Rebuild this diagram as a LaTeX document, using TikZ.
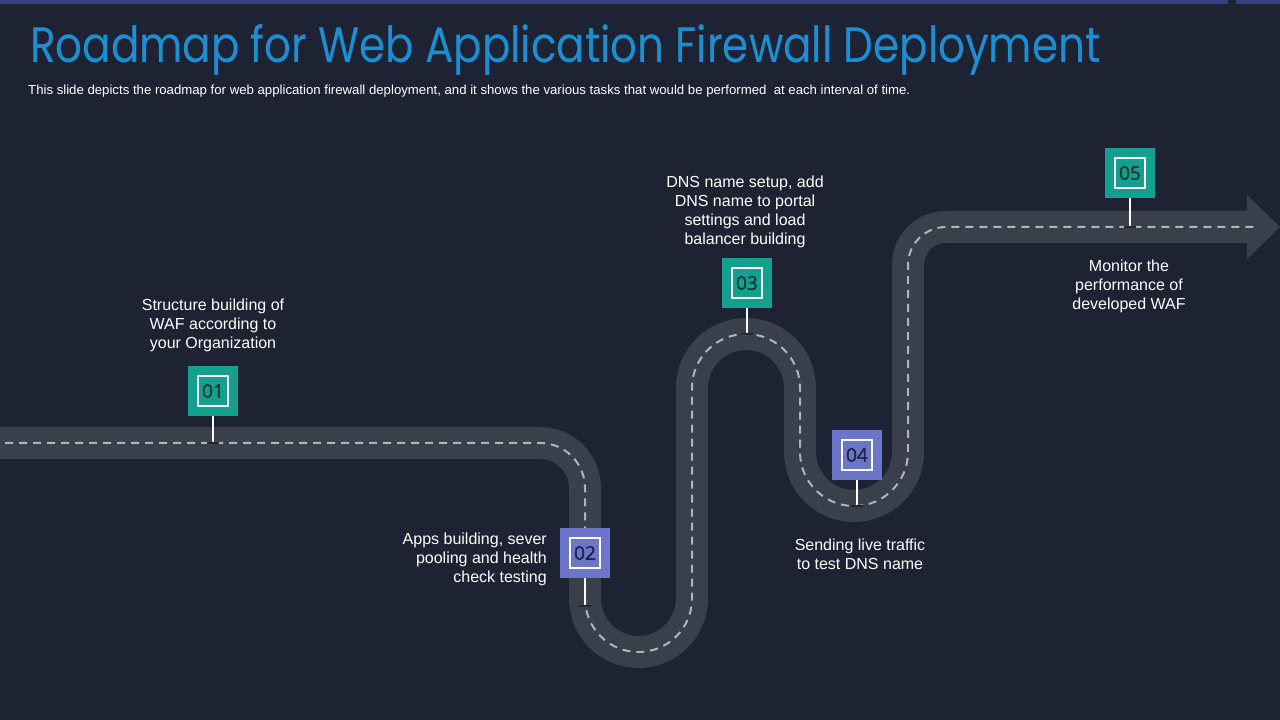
\documentclass[tikz,border=0pt]{standalone}
\usepackage{fontspec}
\setmainfont{Liberation Sans}
\newfontfamily\titlefont{Poppins}
\newfontfamily\numfont[FakeBold=1.8]{Open Sans}
\usepackage{graphicx}
\definecolor{bg}{HTML}{1E2333}
\definecolor{topbar}{HTML}{34417F}
\definecolor{roadc}{HTML}{3A3F4C}
\definecolor{dashc}{HTML}{B0B3BA}
\definecolor{mteal}{HTML}{13A08E}
\definecolor{mperi}{HTML}{6C76C8}
\definecolor{titlec}{HTML}{1B8FD3}
\definecolor{numteal}{HTML}{0E3B3A}
\definecolor{numperi}{HTML}{1E2446}
\definecolor{tickc}{HTML}{23272F}
\begin{document}
\begin{tikzpicture}[x=1pt,y=1pt,
  road/.style={draw=roadc, line width=32pt},
  centerline/.style={draw=dashc, line width=2pt, dash pattern=on 8pt off 6pt},
  markerbox/.style={minimum size=50pt, inner sep=0pt, draw=none},
  innerbox/.style={minimum size=30pt, inner sep=0pt, draw=white, line width=1.2pt, font=\numfont\fontsize{19}{20}\selectfont},
  stem/.style={draw=white, line width=1.2pt},
  tick/.style={draw=tickc, line width=1.5pt},
  lbl/.style={text=white, font=\fontsize{16}{19}\selectfont, align=center, inner sep=0pt}
]
\useasboundingbox (0,0) rectangle (1280,720);
\fill[bg] (0,0) rectangle (1280,720);
\fill[topbar] (0,716) rectangle (1228,720);
\fill[topbar] (1236,716) rectangle (1280,720);

% title and subtitle
\node[anchor=base west, inner sep=0pt, text=titlec] (title) at (30,657)
  {\resizebox{1070pt}{38pt}{\titlefont Roadmap for Web Application Firewall Deployment}};
\node[anchor=base west, inner sep=0pt, text=white] (sub) at (28,625)
  {\resizebox{882pt}{9.5pt}{This slide depicts the roadmap for web application firewall deployment, and it shows the various tasks that would be performed\ \ at each interval of time.}};

% road
\path[road] (0,277) -- (540,277) arc[start angle=90, end angle=0, radius=45]
  -- (585,121.5) arc[start angle=180, end angle=360, radius=53.5]
  -- (692,332) arc[start angle=180, end angle=0, radius=54]
  -- (800,268) arc[start angle=180, end angle=360, radius=54]
  -- (908,455) arc[start angle=180, end angle=90, radius=38]
  -- (1249,493);
\fill[roadc] (1247,525) -- (1280,493) -- (1247,461) -- cycle;
\path[centerline] (5,277) -- (540,277) arc[start angle=90, end angle=0, radius=45]
  -- (585,121.5) arc[start angle=180, end angle=360, radius=53.5]
  -- (692,332) arc[start angle=180, end angle=0, radius=54]
  -- (800,268) arc[start angle=180, end angle=360, radius=54]
  -- (908,455) arc[start angle=180, end angle=90, radius=38]
  -- (1256,493);

% stem end coordinates
\coordinate (s1) at (213,277);
\coordinate (s2) at (585,114);
\coordinate (s3) at (747,386);
\coordinate (s4) at (857,214);
\coordinate (s5) at (1130,493);

% markers
\node[markerbox, fill=mteal] (m1) at (213,329) {};
\node[innerbox, text=numteal] (m1i) at (m1.center) {01};
\node[markerbox, fill=mperi] (m2) at (585,167) {};
\node[innerbox, text=numperi] (m2i) at (m2.center) {02};
\node[markerbox, fill=mteal] (m3) at (747,437) {};
\node[innerbox, text=numteal] (m3i) at (m3.center) {03};
\node[markerbox, fill=mperi] (m4) at (857,265) {};
\node[innerbox, text=numperi] (m4i) at (m4.center) {04};
\node[markerbox, fill=mteal] (m5) at (1130,547) {};
\node[innerbox, text=numteal] (m5i) at (m5.center) {05};

\draw[stem] (m1.south) -- (s1);
\draw[stem] (m2.south) -- (s2);
\draw[stem] (m3.south) -- (s3);
\draw[stem] (m4.south) -- (s4);
\draw[stem] (m5.south) -- (s5);
\foreach \s in {s1,s2,s3,s4,s5} \draw[tick] ([xshift=-6pt]\s) -- ([xshift=6pt]\s);

% labels
\node[lbl] (t1) at (213,395) {Structure building of\\WAF according to\\your Organization};
\node[lbl, anchor=east, align=right] (t2) at (547,161) {Apps building, sever\\pooling and health\\check testing};
\node[lbl] (t3) at (745,508.5) {DNS name setup, add\\DNS name to portal\\settings and load\\balancer building};
\node[lbl] (t4) at (860,165.5) {Sending live traffic\\to test DNS name};
\node[lbl] (t5) at (1129,434) {Monitor the\\performance of\\developed WAF};
\end{tikzpicture}
\end{document}
